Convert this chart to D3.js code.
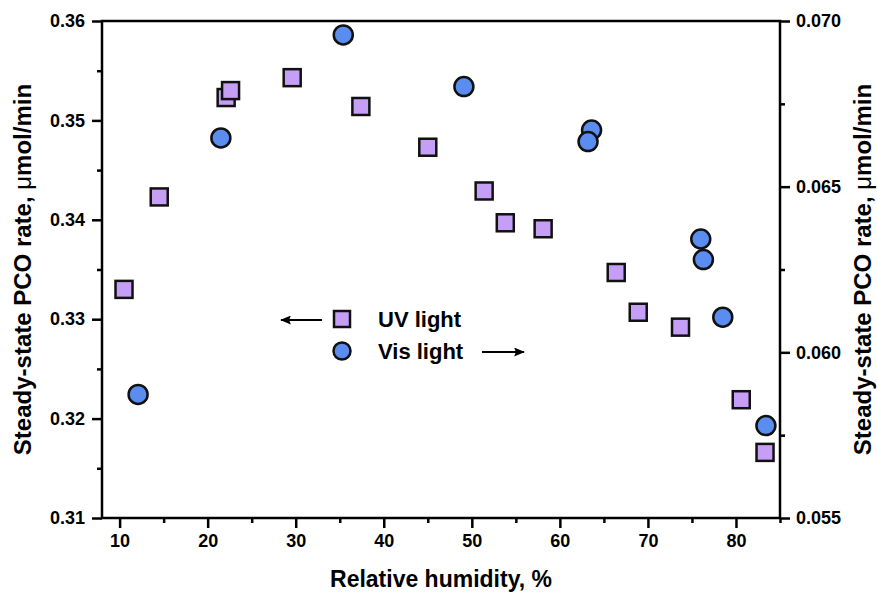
<!DOCTYPE html>
<html>
<head>
<meta charset="utf-8">
<script src="https://cdn.jsdelivr.net/npm/d3@7"></script>
<style>
body { margin: 0; background: #fff; }
svg { display: block; }
</style>
</head>
<body>
<svg id="chart" width="877" height="595"></svg>
<script>
// UV light (left axis) and Vis light (right axis) readings
var uvHumidity = [10.5, 14.5, 22.1, 22.6, 29.6, 37.4, 45.0, 51.4, 53.8, 58.1, 66.4, 68.9, 73.7, 80.6, 83.3];
var uvRate = [0.3330, 0.3423, 0.3523, 0.3530, 0.3543, 0.3514, 0.3473, 0.3429, 0.3397, 0.3391, 0.3347, 0.3307, 0.3292, 0.3219, 0.3166];
var visHumidity = [12.1, 21.5, 35.4, 49.1, 63.6, 63.2, 76.0, 76.3, 78.5, 83.4];
var visRate = [0.05873, 0.06647, 0.06958, 0.06802, 0.06671, 0.06636, 0.06342, 0.06280, 0.06106, 0.05779];

var xTicks = [10, 20, 30, 40, 50, 60, 70, 80];
var xMinor = [15, 25, 35, 45, 55, 65, 75, 85];
var leftTicks = [0.31, 0.32, 0.33, 0.34, 0.35, 0.36];
var leftMinor = [0.315, 0.325, 0.335, 0.345, 0.355];
var rightTicks = [0.055, 0.060, 0.065, 0.070];
var rightMinor = [0.0575, 0.0625, 0.0675];

var fontFam = '"Liberation Sans", Arial, sans-serif';
var sqColor = '#c59ef5';
var ciColor = '#5a8def';

var svg = d3.select('#chart');
var margin = { left: 102, right: 97, top: 21, bottom: 77 };
var width = 877, height = 595;
var x0 = margin.left, x1 = width - margin.right;
var y0 = margin.top, y1 = height - margin.bottom;

var xScale = d3.scaleLinear().domain([8, 85]).range([x0, x1]);
var yLeft = d3.scaleLinear().domain([0.31, 0.36]).range([y1, y0]);
var yRight = d3.scaleLinear().domain([0.055, 0.070]).range([y1, y0]);

function styleAxis(g) {
    g.select('.domain').remove();
    g.selectAll('.tick line').attr('stroke', '#000').attr('stroke-width', 2.5);
    g.selectAll('.tick text')
        .attr('fill', '#000')
        .style('font-family', fontFam)
        .style('font-weight', 'bold')
        .style('font-size', '18px');
}

// bottom axis
svg.append('g')
    .attr('transform', `translate(0,${y1})`)
    .call(d3.axisBottom(xScale).tickValues(xTicks).tickSize(10).tickPadding(6).tickFormat(d3.format('d')))
    .call(styleAxis);
svg.append('g')
    .attr('transform', `translate(0,${y1})`)
    .call(d3.axisBottom(xScale).tickValues(xMinor).tickSize(5).tickFormat(''))
    .call(styleAxis);

// left axis
svg.append('g')
    .attr('transform', `translate(${x0},0)`)
    .call(d3.axisLeft(yLeft).tickValues(leftTicks).tickSize(10).tickPadding(7).tickFormat(d3.format('.2f')))
    .call(styleAxis);
svg.append('g')
    .attr('transform', `translate(${x0},0)`)
    .call(d3.axisLeft(yLeft).tickValues(leftMinor).tickSize(5).tickFormat(''))
    .call(styleAxis);

// right axis
svg.append('g')
    .attr('transform', `translate(${x1},0)`)
    .call(d3.axisRight(yRight).tickValues(rightTicks).tickSize(10).tickPadding(6).tickFormat(d3.format('.3f')))
    .call(styleAxis);
svg.append('g')
    .attr('transform', `translate(${x1},0)`)
    .call(d3.axisRight(yRight).tickValues(rightMinor).tickSize(5).tickFormat(''))
    .call(styleAxis);

// frame
svg.append('rect')
    .attr('x', x0)
    .attr('y', y0)
    .attr('width', x1 - x0)
    .attr('height', y1 - y0)
    .attr('fill', 'none')
    .attr('stroke', '#000')
    .attr('stroke-width', 2.5);

// UV squares
var sq = 17;
svg.append('g').selectAll('rect')
    .data(d3.range(uvHumidity.length))
    .join('rect')
    .attr('x', i => xScale(uvHumidity[i]) - sq / 2)
    .attr('y', i => yLeft(uvRate[i]) - sq / 2)
    .attr('width', sq)
    .attr('height', sq)
    .attr('fill', sqColor)
    .attr('stroke', '#111')
    .attr('stroke-width', 2.5);

// Vis circles
svg.append('g').selectAll('circle')
    .data(d3.range(visHumidity.length))
    .join('circle')
    .attr('cx', i => xScale(visHumidity[i]))
    .attr('cy', i => yRight(visRate[i]))
    .attr('r', 9.5)
    .attr('fill', ciColor)
    .attr('stroke', '#111')
    .attr('stroke-width', 2.5);

// legend
var defs = svg.append('defs');
defs.append('marker')
    .attr('id', 'head')
    .attr('viewBox', '0 0 12 10')
    .attr('refX', 11)
    .attr('refY', 5)
    .attr('markerWidth', 13)
    .attr('markerHeight', 9)
    .attr('markerUnits', 'userSpaceOnUse')
    .attr('orient', 'auto')
    .append('path')
    .attr('d', 'M0,0 L12,5 L0,10 L2,5 Z')
    .attr('fill', '#000');

var leg = svg.append('g');
leg.append('line')
    .attr('x1', 322).attr('y1', 320).attr('x2', 281).attr('y2', 320)
    .attr('stroke', '#000').attr('stroke-width', 2)
    .attr('marker-end', 'url(#head)');
leg.append('rect')
    .attr('x', 342 - 8).attr('y', 319 - 8)
    .attr('width', 16).attr('height', 16)
    .attr('fill', sqColor).attr('stroke', '#111').attr('stroke-width', 2.5);
leg.append('circle')
    .attr('cx', 342).attr('cy', 351).attr('r', 8.5)
    .attr('fill', ciColor).attr('stroke', '#111').attr('stroke-width', 2.5);
leg.append('text')
    .attr('x', 378).attr('y', 327)
    .style('font-family', fontFam).style('font-weight', 'bold').style('font-size', '22px')
    .text('UV light');
leg.append('text')
    .attr('x', 378).attr('y', 359)
    .style('font-family', fontFam).style('font-weight', 'bold').style('font-size', '22px')
    .text('Vis light');
leg.append('line')
    .attr('x1', 482).attr('y1', 352).attr('x2', 524).attr('y2', 352)
    .attr('stroke', '#000').attr('stroke-width', 2)
    .attr('marker-end', 'url(#head)');

// axis titles
svg.append('text')
    .attr('x', (x0 + x1) / 2)
    .attr('y', 587)
    .attr('text-anchor', 'middle')
    .style('font-family', fontFam).style('font-weight', 'bold').style('font-size', '23px')
    .text('Relative humidity, %');

function yTitle(xPos) {
    var t = svg.append('text')
        .attr('transform', `translate(${xPos}, ${(y0 + y1) / 2}) rotate(-90)`)
        .attr('text-anchor', 'middle')
        .style('font-family', fontFam).style('font-weight', 'bold').style('font-size', '24px');
    t.append('tspan').text('Steady-state PCO rate, ');
    t.append('tspan').style('font-weight', 'normal').text('\u03bc');
    t.append('tspan').text('mol/min');
}
yTitle(31);
yTitle(871);
</script>
</body>
</html>
